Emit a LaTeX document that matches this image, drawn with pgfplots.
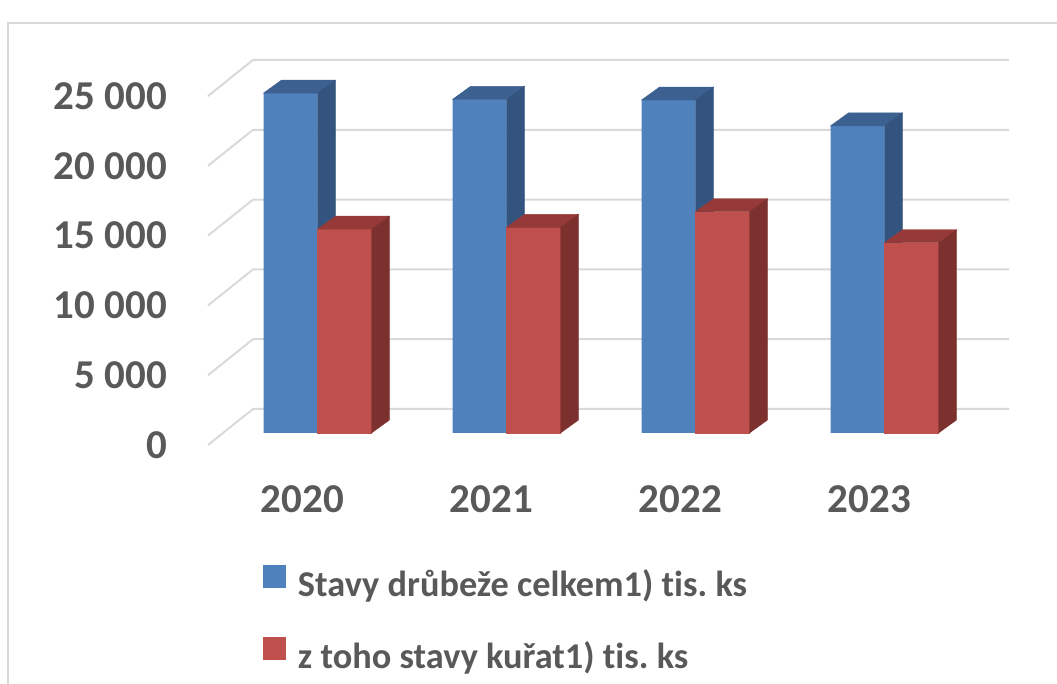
\documentclass[border=0pt]{standalone}
\usepackage{pgfplots}
\usepackage{pgfplotstable}
\pgfplotsset{compat=1.18}
\usepackage{fontspec}
\setmainfont{Carlito}[Ligatures=NoCommon]
\frenchspacing
\definecolor{bluefront}{HTML}{4F81BD}
\definecolor{bluetop}{HTML}{3C6190}
\definecolor{blueside}{HTML}{33547E}
\definecolor{redfront}{HTML}{C0504D}
\definecolor{redtop}{HTML}{953A38}
\definecolor{redside}{HTML}{7D312F}
\definecolor{gridgray}{HTML}{D9D9D9}
\definecolor{textgray}{HTML}{595959}
\pgfdeclareplotmark{nothing}{}

\pgfplotstableread{
x v
0 24350
1 23900
2 23850
3 22000
}\tblblue
\pgfplotstableread{
x v
0 14600
1 14730
2 15850
3 13630
}\tblred

\begin{document}
\frenchspacing
\begin{tikzpicture}
\useasboundingbox (0,0) rectangle (1057bp,684bp);
\draw[gridgray, line width=2bp] (8bp,-20bp) -- (8bp,661bp) -- (1080bp,661bp);
\begin{axis}[
  scale only axis,
  width=756bp, height=349bp,
  anchor=south west, at={(223bp,251bp)},
  xmin=-0.5, xmax=3.5, ymin=0, ymax=25000,
  clip=false,
  scaled y ticks=false,
  axis x line*=bottom, axis y line*=left,
  axis line style={draw=none},
  tick style={draw=none},
  major tick length=0pt,
  xtick={0,1,2,3},
  xticklabels={2020,2021,2022,2023},
  ytick={0,5000,10000,15000,20000,25000},
  yticklabels={0,5 000,10 000,15 000,20 000,25 000},
  xticklabel style={font=\fontsize{41bp}{49bp}\selectfont\bfseries, text=textgray, anchor=north, inner sep=0pt, xshift=-15bp, yshift=-52bp},
  yticklabel style={font=\fontsize{41bp}{49bp}\selectfont\bfseries, text=textgray, anchor=east, inner sep=0pt, xshift=-56bp, yshift=-12bp},
  legend style={draw=none, fill=none, inner sep=0pt, outer sep=0pt,
    at={(axis description cs:0.0529,-0.3774)}, anchor=north west,
    row sep=32bp, column sep=0pt,
    nodes={inner sep=0pt, outer sep=0pt, text height=26bp, text depth=8bp},
    font=\fontsize{36.3bp}{43bp}\selectfont\bfseries\frenchspacing, text=textgray},
  legend cell align=left,
  mylegend/.style={legend image code/.code={\fill[##1] (0bp,0bp) rectangle (23bp,23bp); \path (35bp,0bp);}},
]
\pgfplotsinvokeforeach{0,5000,10000,15000,20000,25000}{
  \draw[gridgray, line width=2bp]
    ([xshift=-15bp,yshift=-12bp]axis cs:-0.5,#1) --
    ([xshift=30bp,yshift=24bp]axis cs:-0.5,#1) --
    ([xshift=30bp,yshift=24bp]axis cs:3.5,#1);
}
% blue series: front faces
\addplot[ybar, bar width=54bp, bar shift=-27bp, fill=bluefront, draw=none, mylegend]
  table[x=x,y=v]{\tblblue};
\addlegendentry{Stavy drůbeže celkem1) tis. ks}
% red series: front faces
\addplot[ybar, bar width=54bp, bar shift=27bp, fill=redfront, draw=none, mylegend]
  table[x=x,y=v]{\tblred};
\addlegendentry{z toho stavy kuřat1) tis. ks}
% blue series: side and top faces (marks are drawn after the bar paths)
\addplot[scatter, only marks, mark=nothing, forget plot,
  point meta=y, point meta min=0, point meta max=25000,
  scatter/@pre marker code/.code={%
    \pgfmathsetmacro\hgt{\pgfplotspointmetatransformed*0.349}%
    \fill[bluetop] (-54bp,0bp) -- (-36bp,13bp) -- (18bp,13bp) -- (0bp,0bp) -- cycle;
    \fill[blueside] (0bp,0bp) -- (18bp,13bp) -- (18bp,13bp-\hgt bp) -- (0bp,-\hgt bp) -- cycle;
  },
  scatter/@post marker code/.code={}]
  table[x=x,y=v]{\tblblue};
% red series: front, side and top faces drawn over the blue side faces
\addplot[scatter, only marks, mark=nothing, forget plot,
  point meta=y, point meta min=0, point meta max=25000,
  scatter/@pre marker code/.code={%
    \pgfmathsetmacro\hgt{\pgfplotspointmetatransformed*0.349}%
    \fill[redfront] (0bp,0bp) rectangle (54bp,-\hgt bp);
    \fill[redtop] (0bp,0bp) -- (18bp,13bp) -- (72bp,13bp) -- (54bp,0bp) -- cycle;
    \fill[redside] (54bp,0bp) -- (72bp,13bp) -- (72bp,13bp-\hgt bp) -- (54bp,-\hgt bp) -- cycle;
  },
  scatter/@post marker code/.code={}]
  table[x=x,y=v]{\tblred};
\end{axis}
\end{tikzpicture}
\end{document}
